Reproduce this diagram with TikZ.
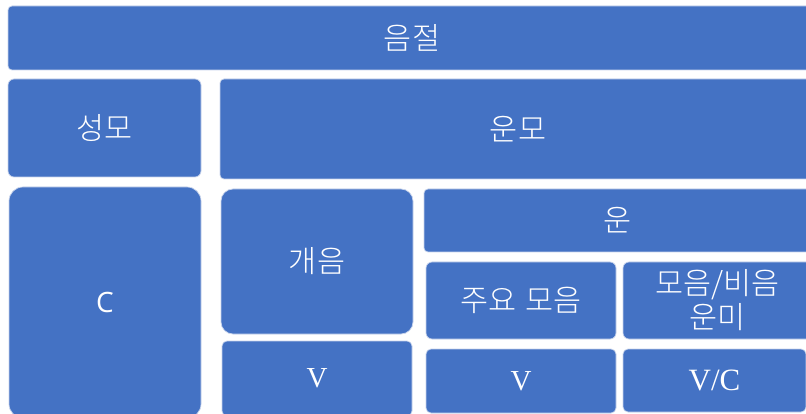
\documentclass[tikz,border=0pt]{standalone}
\usepackage{fontspec}
\setmainfont{Liberation Serif}
\newfontfamily\kr{Noto Sans CJK KR}[UprightFont={* Light}]
\newfontfamily\latsans{Open Sans}
\definecolor{boxblue}{RGB}{68,114,196}
\definecolor{boxedge}{RGB}{200,212,236}
\tikzset{
  blk/.style={draw=boxedge, line width=0.7pt, fill=boxblue, text=white,
    inner sep=0pt, outer sep=0pt, align=center},
  krtext/.style={font=\kr\fontsize{30.5}{34}\selectfont},
  lattext/.style={font=\fontsize{29}{32}\selectfont},
}
\newcommand{\blkbox}[8]{% name, x1, y1, x2, y2, radius, style, text
  \path[blk, rounded corners=#6] (#2,#3) rectangle (#4,#5);
  \node[#7, text=white, align=center, inner sep=0pt] (#1) at ({(#2+#4)/2},{(#3+#5)/2}) {#8};
}
\begin{document}
\begin{tikzpicture}[x=1pt,y=-1pt]
\useasboundingbox (0,0) rectangle (806,414);
\fill[white] (0,0) rectangle (806,414);
\clip (0,0) rectangle (806,414);
\blkbox{umjeol}{8}{6}{816}{70}{4pt}{krtext}{음절}
\blkbox{seongmo}{8}{79}{201}{177}{6pt}{krtext}{성모}
\blkbox{unmo}{220}{79}{816}{179}{4pt}{krtext}{운모}
\blkbox{c}{9}{187}{201}{418}{14pt}{font=\latsans\fontsize{28}{32}\selectfont}{C}
\blkbox{gaeeum}{221}{189}{413}{334}{12pt}{krtext}{개음}
\blkbox{vone}{222}{341}{412}{416}{5pt}{lattext}{V}
\blkbox{un}{424}{189}{812}{252}{4pt}{krtext}{운}
\blkbox{juyo}{426}{262}{616}{339}{6pt}{krtext}{주요\hspace{0.3em}모음}
\blkbox{moeum}{623}{262}{812}{339}{6pt}{krtext}{모음/비음\\운미}
\blkbox{vtwo}{426}{349}{616}{413}{5pt}{lattext}{V}
\blkbox{vc}{623}{349}{806}{412}{5pt}{font=\fontsize{31}{32}\selectfont}{V/C}
\end{tikzpicture}
\end{document}
